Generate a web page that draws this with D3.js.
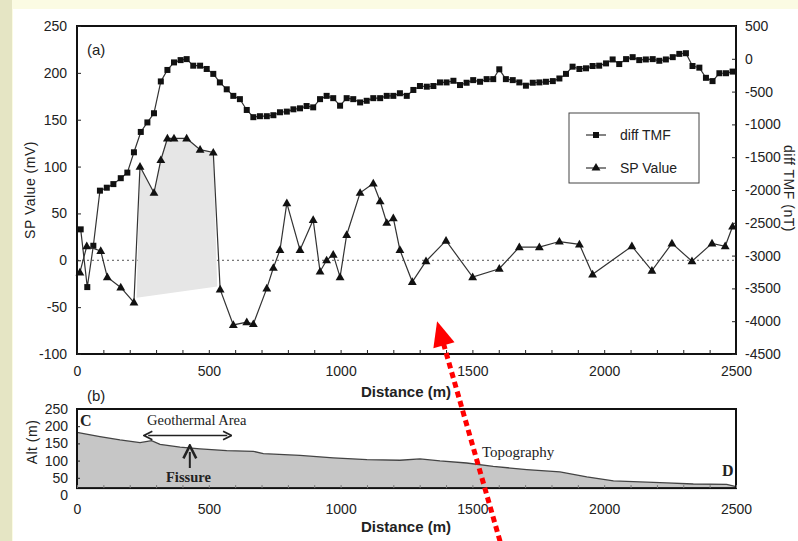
<!DOCTYPE html>
<html>
<head>
<meta charset="utf-8">
<script src="https://cdn.jsdelivr.net/npm/d3@7"></script>
<style>
  html, body { margin: 0; padding: 0; background: #fbfbe3; }
  svg { display: block; }
</style>
</head>
<body>
<svg id="chart" width="798" height="541"></svg>
<script>
// ---- (a) diff TMF (nT), right axis ----
const tmfDistance = [14,39,62,87,113,138,166,191,216,242,267,292,318,343,368,393,416,441,467,492,
  517,542,568,593,618,644,669,694,720,745,770,796,821,846,871,896,922,947,972,998,
  1023,1048,1074,1099,1124,1150,1175,1200,1225,1251,1276,1301,1327,1352,1377,1402,1428,1453,1478,1503,
  1529,1554,1579,1602,1627,1653,1678,1703,1729,1754,1779,1805,1830,1855,1880,1906,1931,1956,1981,2007,
  2032,2057,2083,2108,2133,2158,2184,2209,2234,2260,2285,2310,2335,2361,2386,2411,2437,2462,2487];
const tmfValue = [-2600,-3480,-2850,-2010,-1965,-1910,-1820,-1735,-1425,-1115,-970,-830,-345,-170,-55,-20,-5,-105,-105,-155,
  -230,-360,-465,-565,-615,-780,-890,-875,-875,-860,-815,-805,-770,-755,-720,-740,-615,-565,-600,-715,
  -600,-615,-665,-640,-600,-600,-565,-565,-525,-565,-475,-415,-425,-415,-360,-360,-335,-400,-365,-325,
  -350,-310,-310,-160,-310,-325,-360,-410,-365,-360,-350,-340,-300,-230,-120,-155,-145,-110,-105,-70,
  -10,-80,-5,25,-20,-10,-5,-30,-10,25,75,85,-110,-135,-290,-340,-220,-220,-195];

// ---- (a) SP Value (mV), left axis ----
const spDistance = [11,37,90,115,166,216,239,292,318,343,368,416,467,517,543,593,644,669,720,745,
  770,796,846,896,922,947,972,998,1023,1074,1124,1150,1175,1200,1225,1272,1324,1400,1501,1602,
  1678,1754,1830,1906,1956,2105,2181,2257,2333,2409,2459,2487];
const spValue = [-13,15,10,-18,-29,-45,100,72,107,130,130,130,118,115,-31,-69,-66,-68,-30,-8,
  11,61,11,43,-12,0,6,-18,27,72,82,63,40,45,11,-23,-1,21,-18,-9,
  14,14,20,17,-15,15,-11,18,-1,18,15,36];

// shaded anomaly zone under the SP profile
const shadeDistance = [226,239,292,318,343,368,416,467,517,532];
const shadeValue = [-40,100,72,107,130,130,130,118,115,-28];

// ---- (b) topography along C–D ----
const topoDistance = [0,87,163,239,283,315,391,467,568,669,707,846,972,1100,1225,1301,1377,1478,1579,1706,
  1832,1934,2035,2136,2237,2338,2465,2500];
const topoAlt = [182,170,160,152,158,147,139,134,129,127,120,115,108,103,101,105,99,93,83,74,
  67,53,41,38,35,32,31,24];

// axis ticks
const distTicks = [0,500,1000,1500,2000,2500];
const distMinorTicks = d3.range(0, 2501, 100);
const spTicks = [-100,-50,0,50,100,150,200,250];
const tmfTicks = [-4500,-4000,-3500,-3000,-2500,-2000,-1500,-1000,-500,0,500];
const altTicks = [0,50,100,150,200,250];
const altInnerTicks = [50,100,150,200];
const altFloor = 20;

// pointer arrow, in (distance, SP) units
const arrowFrom = [1605, -300];
const arrowTo = [1366, -65];

const svg = d3.select("#chart");
const tickFont = "'Liberation Sans', Arial, sans-serif";
const ink = "#222";
const plain = d => (d < 0 ? "-" : "") + Math.abs(d);

// page backdrop
svg.append("rect").attr("x", 0).attr("y", 0).attr("width", 798).attr("height", 541).attr("fill", "#fbfbe3");
svg.append("rect").attr("x", 0).attr("y", 0).attr("width", 12).attr("height", 541).attr("fill", "#e5e5c4");
svg.append("rect").attr("x", 13).attr("y", 9).attr("width", 785).attr("height", 532).attr("fill", "#ffffff");

// ---- scales ----
const x = d3.scaleLinear().domain([0, 2500]).range([77, 736]);
const ySP = d3.scaleLinear().domain([-100, 250]).range([354, 26]);
const yTMF = d3.scaleLinear().domain([-4500, 500]).range([354, 26]);
const yAlt = d3.scaleLinear().domain([0, 250]).range([495, 409]);

const styleAxis = g => {
  g.select(".domain").remove();
  g.selectAll(".tick line").attr("stroke", ink).attr("stroke-width", 1);
  g.selectAll("text").attr("fill", ink).attr("font-family", tickFont).attr("font-size", 14);
};

// ===== panel (a) =====
const a = svg.append("g");

// zero reference
a.append("line")
  .attr("x1", x(0)).attr("x2", x(2500))
  .attr("y1", ySP(0)).attr("y2", ySP(0))
  .attr("stroke", "#555").attr("stroke-width", 1).attr("stroke-dasharray", "2,3");

// shaded zone
a.append("path")
  .datum(d3.zip(shadeDistance, shadeValue))
  .attr("d", d3.line().x(d => x(d[0])).y(d => ySP(d[1])).curve(d3.curveLinearClosed))
  .attr("fill", "#e6e6e6").attr("stroke", "none");

// diff TMF line + squares
const tmfPts = d3.zip(tmfDistance, tmfValue);
a.append("path").datum(tmfPts)
  .attr("d", d3.line().x(d => x(d[0])).y(d => yTMF(d[1])))
  .attr("fill", "none").attr("stroke", "#333").attr("stroke-width", 1.2);
a.append("g").selectAll("rect").data(tmfPts).join("rect")
  .attr("x", d => x(d[0]) - 3).attr("y", d => yTMF(d[1]) - 3)
  .attr("width", 6).attr("height", 6).attr("fill", "#111");

// SP line + triangles
const spPts = d3.zip(spDistance, spValue);
a.append("path").datum(spPts)
  .attr("d", d3.line().x(d => x(d[0])).y(d => ySP(d[1])))
  .attr("fill", "none").attr("stroke", "#333").attr("stroke-width", 1.2);
const tri = d3.symbol().type(d3.symbolTriangle).size(34);
a.append("g").selectAll("path").data(spPts).join("path")
  .attr("d", tri)
  .attr("transform", d => `translate(${x(d[0])},${ySP(d[1]) + 0.5})`)
  .attr("fill", "#111");

// frame
a.append("rect")
  .attr("x", x(0)).attr("y", ySP(250))
  .attr("width", x(2500) - x(0)).attr("height", ySP(-100) - ySP(250))
  .attr("fill", "none").attr("stroke", "#111").attr("stroke-width", 2);

// axes
a.append("g").attr("transform", `translate(${x(0)},0)`)
  .call(d3.axisLeft(ySP).tickValues(spTicks).tickSizeInner(-4).tickSizeOuter(0).tickPadding(10).tickFormat(plain))
  .call(styleAxis);
a.append("g").attr("transform", `translate(${x(2500)},0)`)
  .call(d3.axisRight(yTMF).tickValues(tmfTicks).tickSizeInner(-4).tickSizeOuter(0).tickPadding(9).tickFormat(plain))
  .call(styleAxis);
a.append("g").attr("transform", `translate(0,${ySP(-100)})`)
  .call(d3.axisBottom(x).tickValues(distMinorTicks).tickSizeInner(-4).tickSizeOuter(0).tickFormat(""))
  .call(styleAxis);
a.append("g").attr("transform", `translate(0,${ySP(-100)})`)
  .call(d3.axisBottom(x).tickValues(distTicks).tickSize(0).tickPadding(12).tickFormat(plain))
  .call(styleAxis);

// titles
a.append("text").attr("x", 87).attr("y", 55).text("(a)")
  .attr("font-family", tickFont).attr("font-size", 15).attr("fill", ink);
a.append("text").attr("x", 406).attr("y", 397).attr("text-anchor", "middle").text("Distance (m)")
  .attr("font-family", tickFont).attr("font-size", 15).attr("font-weight", "bold").attr("fill", ink);
a.append("text").attr("transform", "translate(35,190) rotate(-90)").attr("text-anchor", "middle")
  .text("SP Value (mV)")
  .attr("font-family", tickFont).attr("font-size", 14).attr("letter-spacing", 0.5).attr("fill", ink);
a.append("text").attr("transform", "translate(784,145) rotate(90)").attr("text-anchor", "start")
  .text("diff TMF (nT)")
  .attr("font-family", tickFont).attr("font-size", 14).attr("letter-spacing", 0.5).attr("fill", ink);

// legend
const lg = a.append("g");
lg.append("rect").attr("x", 569).attr("y", 113).attr("width", 130).attr("height", 70)
  .attr("fill", "#fff").attr("stroke", "#444").attr("stroke-width", 1);
[["diff TMF", "square", 135], ["SP Value", "triangle", 168]].forEach(([label, kind, ly]) => {
  lg.append("line").attr("x1", 586).attr("x2", 606).attr("y1", ly).attr("y2", ly)
    .attr("stroke", "#333").attr("stroke-width", 1.2);
  if (kind === "square") {
    lg.append("rect").attr("x", 593).attr("y", ly - 3).attr("width", 6).attr("height", 6).attr("fill", "#111");
  } else {
    lg.append("path").attr("d", tri).attr("transform", `translate(596,${ly})`).attr("fill", "#111");
  }
  lg.append("text").attr("x", 620).attr("y", ly + 5).text(label)
    .attr("font-family", tickFont).attr("font-size", 14).attr("fill", ink);
});

// ===== panel (b) =====
const b = svg.append("g");
b.append("path")
  .datum(d3.zip(topoDistance, topoAlt))
  .attr("d", d3.area().x(d => x(d[0])).y0(yAlt(altFloor)).y1(d => yAlt(d[1])))
  .attr("fill", "#c6c6c6");
b.append("path")
  .datum(d3.zip(topoDistance, topoAlt))
  .attr("d", d3.line().x(d => x(d[0])).y(d => yAlt(d[1])))
  .attr("fill", "none").attr("stroke", "#444").attr("stroke-width", 1.3);

b.append("rect")
  .attr("x", x(0)).attr("y", yAlt(250))
  .attr("width", x(2500) - x(0)).attr("height", yAlt(altFloor) - yAlt(250))
  .attr("fill", "none").attr("stroke", "#111").attr("stroke-width", 2);

b.append("g").attr("transform", `translate(${x(0)},0)`)
  .call(d3.axisLeft(yAlt).tickValues(altInnerTicks).tickSizeInner(-3).tickSizeOuter(0).tickFormat(""))
  .call(styleAxis);
b.append("g").attr("transform", `translate(${x(0) - 9},0)`)
  .call(d3.axisLeft(yAlt).tickValues(altTicks).tickSize(0).tickPadding(0).tickFormat(plain))
  .call(styleAxis);
b.append("g").attr("transform", `translate(0,${yAlt(altFloor)})`)
  .call(d3.axisBottom(x).tickValues(distMinorTicks).tickSizeInner(-3).tickSizeOuter(0).tickFormat(""))
  .call(styleAxis)
  .selectAll(".tick line").attr("stroke", "#777");
b.append("g").attr("transform", `translate(0,${yAlt(altFloor)})`)
  .call(d3.axisBottom(x).tickValues(distTicks).tickSize(0).tickPadding(16).tickFormat(plain))
  .call(styleAxis);

b.append("text").attr("x", 87).attr("y", 401).text("(b)")
  .attr("font-family", tickFont).attr("font-size", 15).attr("fill", ink);
b.append("text").attr("x", 406).attr("y", 532).attr("text-anchor", "middle").text("Distance (m)")
  .attr("font-family", tickFont).attr("font-size", 15).attr("font-weight", "bold").attr("fill", ink);
b.append("text").attr("transform", "translate(37,442) rotate(-90)").attr("text-anchor", "middle")
  .text("Alt (m)")
  .attr("font-family", tickFont).attr("font-size", 14).attr("letter-spacing", 0.5).attr("fill", ink);

// annotations
const serif = "'Liberation Serif', 'Times New Roman', serif";
b.append("text").attr("x", 80).attr("y", 426).text("C")
  .attr("font-family", serif).attr("font-size", 16).attr("font-weight", "bold").attr("fill", ink);
b.append("text").attr("x", 722).attr("y", 476).text("D")
  .attr("font-family", serif).attr("font-size", 16).attr("font-weight", "bold").attr("fill", ink);
b.append("text").attr("x", 147).attr("y", 425).text("Geothermal Area")
  .attr("font-family", serif).attr("font-size", 14.5).attr("fill", ink);
b.append("text").attr("x", 166).attr("y", 482).text("Fissure")
  .attr("font-family", serif).attr("font-size", 14.5).attr("font-weight", "bold").attr("fill", ink);
b.append("text").attr("x", 482).attr("y", 457).text("Topography")
  .attr("font-family", serif).attr("font-size", 15).attr("fill", ink);

const defs = svg.append("defs");
defs.append("marker").attr("id", "ah").attr("viewBox", "0 0 10 10").attr("refX", 5).attr("refY", 5)
  .attr("markerWidth", 8).attr("markerHeight", 8).attr("orient", "auto-start-reverse")
  .append("path").attr("d", "M1,1 L9,5 L1,9").attr("fill", "none").attr("stroke", ink).attr("stroke-width", 1.6);
// geothermal extent (double arrow)
b.append("line").attr("x1", x(270)).attr("x2", x(570)).attr("y1", 435.5).attr("y2", 435.5)
  .attr("stroke", ink).attr("stroke-width", 1.3)
  .attr("marker-start", "url(#ah)").attr("marker-end", "url(#ah)");
// fissure pointer
b.append("line").attr("x1", x(428)).attr("x2", x(428)).attr("y1", 468).attr("y2", 452)
  .attr("stroke", ink).attr("stroke-width", 2)
  .attr("marker-end", "url(#ah)");

// ===== red dotted pointer =====
const ax0 = x(arrowFrom[0]), ay0 = ySP(arrowFrom[1]);
const ax1 = x(arrowTo[0]), ay1 = ySP(arrowTo[1]);
const len = Math.hypot(ax1 - ax0, ay1 - ay0);
const ux = (ax1 - ax0) / len, uy = (ay1 - ay0) / len;
const headL = 25, headW = 11;
const bx = ax1 - ux * headL, by = ay1 - uy * headL;
svg.append("line").attr("x1", ax0).attr("y1", ay0).attr("x2", bx + ux * 2).attr("y2", by + uy * 2)
  .attr("stroke", "#ff0000").attr("stroke-width", 5).attr("stroke-dasharray", "6,4");
svg.append("path")
  .attr("d", `M${ax1},${ay1} L${bx - uy * headW},${by + ux * headW} L${bx + uy * headW},${by - ux * headW} Z`)
  .attr("fill", "#ff0000");
</script>
</body>
</html>
